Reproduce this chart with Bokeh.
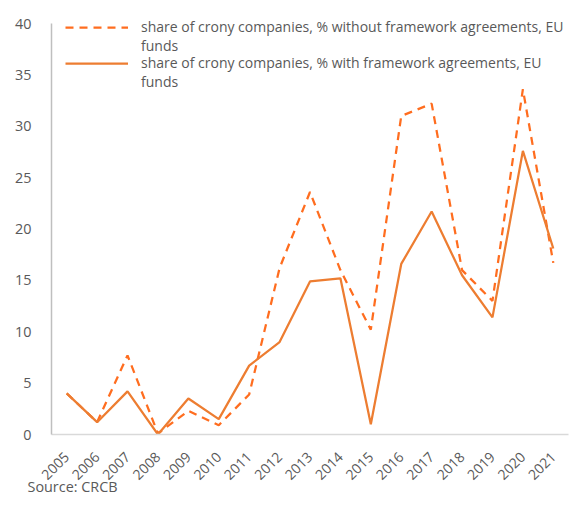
import math
from bokeh.plotting import figure
from bokeh.models import ColumnDataSource, Legend, LegendItem, Range1d, FixedTicker, Title
from bokeh.embed import file_html
from bokeh.resources import INLINE

years = list(range(2005, 2022))
without_fa = [4.0, 1.2, 7.7, 0.1, 2.3, 0.9, 3.9, 16.2, 23.6, 16.0, 10.2, 31.0, 32.2, 16.0, 13.0, 33.6, 16.7]
with_fa = [4.0, 1.2, 4.2, 0.0, 3.5, 1.5, 6.7, 9.0, 14.9, 15.2, 1.0, 16.6, 21.7, 15.5, 11.4, 27.6, 18.1]
label_without = "share of crony companies, % without framework agreements, EU"
label_with = "share of crony companies, % with framework agreements, EU"
label_wrap = "funds"
source_text = "Source: CRCB"
y_ticks = [0, 5, 10, 15, 20, 25, 30, 35, 40]
y_min, y_max = 0, 40

src = ColumnDataSource(dict(year=years, without_fa=without_fa, with_fa=with_fa))

FONT = "Open Sans"
TXT = "#595959"

# frame: 426 px tall; value 40 sits 15 px below the frame top (room for the legend)
y_top = y_max * 426 / 411

p = figure(width=572, height=504, output_backend="svg", toolbar_location=None,
           x_range=Range1d(2004.5, 2021.5), y_range=Range1d(y_min, y_top),
           min_border_left=51, min_border_right=4, min_border_top=8, min_border_bottom=70)
p.outline_line_color = None
p.grid.visible = False
p.background_fill_color = "white"
p.border_fill_color = "white"

r_dash = p.line("year", "without_fa", source=src, line_color="#FF6D1F", line_width=2.25, line_dash="8 6")
r_solid = p.line("year", "with_fa", source=src, line_color="#ED7D31", line_width=2.25)
blank1 = p.line([], [], line_alpha=0)
blank2 = p.line([], [], line_alpha=0)

# axes
p.xaxis.ticker = FixedTicker(ticks=years)
p.xaxis.major_label_orientation = math.pi / 4
p.xaxis.major_tick_line_color = None
p.xaxis.minor_tick_line_color = None
p.xaxis.axis_line_color = "#d9d9d9"
p.xaxis.axis_line_width = 1.5
p.xaxis.major_label_text_font = FONT
p.xaxis.major_label_text_font_size = "14px"
p.xaxis.major_label_text_color = TXT
p.xaxis.major_label_standoff = 14

p.yaxis.ticker = FixedTicker(ticks=y_ticks)
p.yaxis.bounds = (y_min, y_max)
p.yaxis.major_tick_line_color = None
p.yaxis.minor_tick_line_color = None
p.yaxis.axis_line_color = "#bfbfbf"
p.yaxis.axis_line_width = 1.5
p.yaxis.major_label_text_font = FONT
p.yaxis.major_label_text_font_size = "14.4px"
p.yaxis.major_label_text_color = TXT
p.yaxis.major_label_standoff = 14

legend_style = dict(orientation="vertical", padding=0, margin=0, spacing=0,
                    glyph_width=63, glyph_height=16, label_height=16, label_standoff=13,
                    label_text_font=FONT, label_text_font_size="14px", label_text_color=TXT,
                    border_line_color=None, background_fill_alpha=0)
legend_a = Legend(items=[
    LegendItem(label=label_without, renderers=[r_dash]),
    LegendItem(label=label_wrap, renderers=[blank1]),
], location=(14, 379), **legend_style)
legend_b = Legend(items=[
    LegendItem(label=label_with, renderers=[r_solid]),
    LegendItem(label=label_wrap, renderers=[blank2]),
], location=(14, 343), **legend_style)
p.add_layout(legend_a, "center")
p.add_layout(legend_b, "center")

src_title = Title(text=source_text, align="left", offset=-24, text_font=FONT,
                  text_font_size="14.4px", text_color=TXT, text_font_style="normal",
                  vertical_align="top", standoff=-22)
p.add_layout(src_title, "below")

open("out.html", "w").write(file_html(p, INLINE))
